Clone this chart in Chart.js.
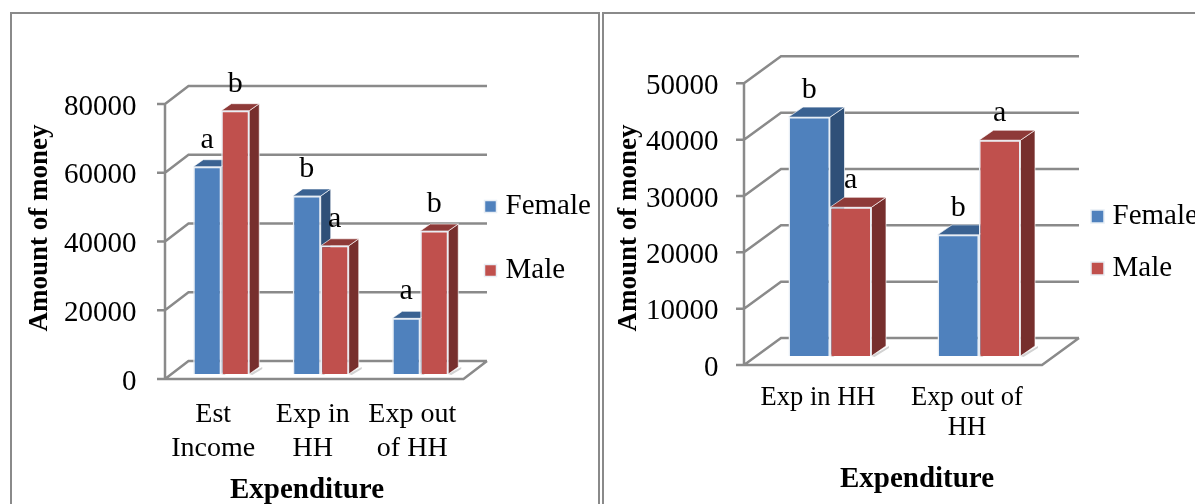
<!DOCTYPE html>
<html>
<head>
<meta charset="utf-8">
<style>
  html, body { margin: 0; padding: 0; background: #fff; overflow: hidden; }
  .frame { position: absolute; top: 12px; height: 500px; border: 2px solid #8a8a8a; box-sizing: border-box; }
  canvas { position: absolute; top: 0; }
</style>
<script src="https://cdn.jsdelivr.net/npm/chart.js@4/dist/chart.umd.min.js"></script>
</head>
<body>
<div class="frame" style="left:10px;width:590px"></div>
<div class="frame" style="left:602px;width:600px"></div>
<canvas id="chartLeft" width="598" height="504" style="left:0"></canvas>
<canvas id="chartRight" width="595" height="504" style="left:600px"></canvas>
<script>
// Datos
const seriesNames = ['Female', 'Male'];

const leftCategories = [['Est', 'Income'], ['Exp in', 'HH'], ['Exp out', 'of HH']];
const leftFemale = [60300, 51800, 16200];
const leftMale = [76600, 37300, 41600];
const leftFemaleLetters = ['a', 'b', 'a'];
const leftMaleLetters = ['b', 'a', 'b'];

const rightCategories = ['Exp in HH', ['Exp out of', 'HH']];
const rightFemale = [42400, 21500];
const rightMale = [26400, 38300];
const rightFemaleLetters = ['b', 'b'];
const rightMaleLetters = ['a', 'a'];

const yTitle = 'Amount of money';
const xTitle = 'Expenditure';

const SERIF = '"Liberation Serif", "Times New Roman", serif';
const GRID = '#8a8a8a';
const colors = [
    { face: '#4f81bd', top: '#3a6292', side: '#2f5078' },
    { face: '#c0504d', top: '#8e3a38', side: '#772f2d' }
];

// Dibuja paredes, caras 3D, letras y titulos alrededor de las barras
const box3d = {
    id: 'box3d',
    afterLayout(chart, args, o) {
        // la leyenda recorta su texto al ancho de su caja
        chart.legend.left = o.legendX;
        chart.legend.right = o.legendX + 200;
        chart.legend.top = o.legendTop;
    },
    beforeDatasetsDraw(chart, args, o) {
        const ctx = chart.ctx;
        const area = chart.chartArea;
        const y = chart.scales.y;
        const f = o.front, b = o.back;
        const xFL = area.left + f.dx, xFR = area.right + f.dx;
        const xBL = area.left + b.dx, xBR = area.right + b.dx;

        ctx.save();
        ctx.strokeStyle = GRID;
        ctx.lineWidth = 2.5;
        ctx.beginPath();
        y.ticks.forEach(t => {
            const py = y.getPixelForValue(t.value);
            ctx.moveTo(xFL - o.tick, py + f.dy);
            ctx.lineTo(xFL, py + f.dy);
            ctx.lineTo(xBL, py + b.dy);
            ctx.lineTo(xBR, py + b.dy);
        });
        // eje vertical y piso
        ctx.moveTo(xFL, y.getPixelForValue(y.max) + f.dy);
        ctx.lineTo(xFL, y.getPixelForValue(0) + f.dy);
        ctx.lineTo(xFR, y.getPixelForValue(0) + f.dy);
        ctx.lineTo(xBR, y.getPixelForValue(0) + b.dy);
        ctx.stroke();

        // caras laterales y superiores
        const d = o.depth;
        chart.data.datasets.forEach((ds, i) => {
            chart.getDatasetMeta(i).data.forEach(bar => {
                const l = bar.x - bar.width / 2, r = bar.x + bar.width / 2;
                // sombra sobre el piso
                ctx.fillStyle = '#d2d2d2';
                ctx.beginPath();
                ctx.moveTo(r, bar.base);
                ctx.lineTo(r + d.dx + 3, bar.base - d.dy);
                ctx.lineTo(r + d.dx + 3, bar.base - d.dy + 2);
                ctx.lineTo(r + 3, bar.base + 1);
                ctx.closePath();
                ctx.fill();

                ctx.strokeStyle = 'rgba(255,255,255,0.65)';
                ctx.lineWidth = 1;
                ctx.fillStyle = colors[i].side;
                ctx.beginPath();
                ctx.moveTo(r, bar.y);
                ctx.lineTo(r + d.dx, bar.y - d.dy);
                ctx.lineTo(r + d.dx, bar.base - d.dy);
                ctx.lineTo(r, bar.base);
                ctx.closePath();
                ctx.fill();
                ctx.stroke();
                ctx.fillStyle = colors[i].top;
                ctx.beginPath();
                ctx.moveTo(l, bar.y);
                ctx.lineTo(l + d.dx, bar.y - d.dy);
                ctx.lineTo(r + d.dx, bar.y - d.dy);
                ctx.lineTo(r, bar.y);
                ctx.closePath();
                ctx.fill();
                ctx.stroke();
            });
        });
        ctx.restore();
    },
    afterDatasetsDraw(chart, args, o) {
        const ctx = chart.ctx;
        ctx.save();
        ctx.fillStyle = '#000';
        ctx.textAlign = 'center';
        ctx.textBaseline = 'middle';
        ctx.font = '30px ' + SERIF;
        chart.data.datasets.forEach((ds, i) => {
            chart.getDatasetMeta(i).data.forEach((bar, j) => {
                ctx.fillText(o.letters[i][j], bar.x, bar.y - 27);
            });
        });
        ctx.font = 'bold 29px ' + SERIF;
        ctx.fillText(xTitle, o.xTitleAt[0], o.xTitleAt[1]);
        ctx.translate(o.yTitleAt[0], o.yTitleAt[1]);
        ctx.rotate(-Math.PI / 2);
        ctx.font = 'bold 27px ' + SERIF;
        ctx.fillText(yTitle, 0, 0);
        ctx.restore();
    }
};

function drawChart(id, cats, female, male, yMax, yStep, o) {
    new Chart(document.getElementById(id), {
        type: 'bar',
        data: {
            labels: cats,
            datasets: [
                { label: seriesNames[0], data: female, backgroundColor: colors[0].face },
                { label: seriesNames[1], data: male, backgroundColor: colors[1].face }
            ]
        },
        plugins: [box3d],
        options: {
            responsive: false,
            animation: false,
            layout: { padding: { left: 0, top: o.top, right: o.width - o.right - 100, bottom: 0 } },
            datasets: {
                bar: {
                    categoryPercentage: o.catPct,
                    barPercentage: 1,
                    borderColor: '#e8eef5',
                    borderWidth: 1.5
                }
            },
            scales: {
                x: {
                    grid: { display: false },
                    border: { display: false },
                    afterFit: s => { s.height = 504 - o.bottom; },
                    ticks: {
                        color: '#000',
                        font: { family: SERIF, size: o.xFont, lineHeight: o.xLine },
                        padding: o.xPad,
                        labelOffset: o.xLabelOffset,
                        autoSkip: false,
                        maxRotation: 0
                    }
                },
                y: {
                    min: 0,
                    max: yMax,
                    grid: { display: false },
                    border: { display: false },
                    afterFit: s => { s.width = o.left; },
                    ticks: {
                        color: '#000',
                        stepSize: yStep,
                        font: { family: SERIF, size: 29 },
                        padding: o.yPad,
                        labelOffset: o.front.dy + 3,
                        callback: v => String(v)
                    }
                }
            },
            plugins: {
                tooltip: { enabled: false },
                legend: {
                    position: 'right',
                    align: 'start',
                    maxWidth: 100,
                    labels: {
                        color: '#000',
                        font: { family: SERIF, size: 29 },
                        usePointStyle: true,
                        pointStyle: 'rect',
                        boxWidth: 1,
                        boxHeight: o.legendBox,
                        padding: o.legendGap
                    }
                },
                box3d: {
                    front: o.front,
                    back: o.back,
                    depth: o.depth,
                    tick: 8,
                    legendX: o.legendX,
                    legendTop: o.legendTop,
                    letters: o.letters,
                    xTitleAt: o.xTitleAt,
                    yTitleAt: o.yTitleAt
                }
            }
        }
    });
}

drawChart('chartLeft', leftCategories, leftFemale, leftMale, 80000, 20000, {
    width: 598, left: 171.5, right: 470, top: 99, bottom: 374, catPct: 0.563,
    xFont: 28, xLine: 1.2, xPad: 16, xLabelOffset: -8, yPad: 27,
    front: { dx: -6.5, dy: 5 }, back: { dx: 17, dy: -13 }, depth: { dx: 10, dy: 7 },
    legendX: 455, legendTop: 157, legendGap: 35, legendBox: 12,
    letters: [leftFemaleLetters, leftMaleLetters],
    xTitleAt: [307, 491], yTitleAt: [40, 228]
});

drawChart('chartRight', rightCategories, rightFemale, rightMale, 50000, 10000, {
    width: 595, left: 155.5, right: 453.5, top: 74.3, bottom: 356, catPct: 0.557,
    xFont: 26.5, xLine: 1.13, xPad: 19, xLabelOffset: -12, yPad: 29,
    front: { dx: -11.5, dy: 9 }, back: { dx: 25.5, dy: -18 }, depth: { dx: 14.5, dy: 10 },
    legendX: 474, legendTop: 179, legendGap: 23, legendBox: 13,
    letters: [rightFemaleLetters, rightMaleLetters],
    xTitleAt: [317, 480], yTitleAt: [29.5, 228]
});
</script>
</body>
</html>
